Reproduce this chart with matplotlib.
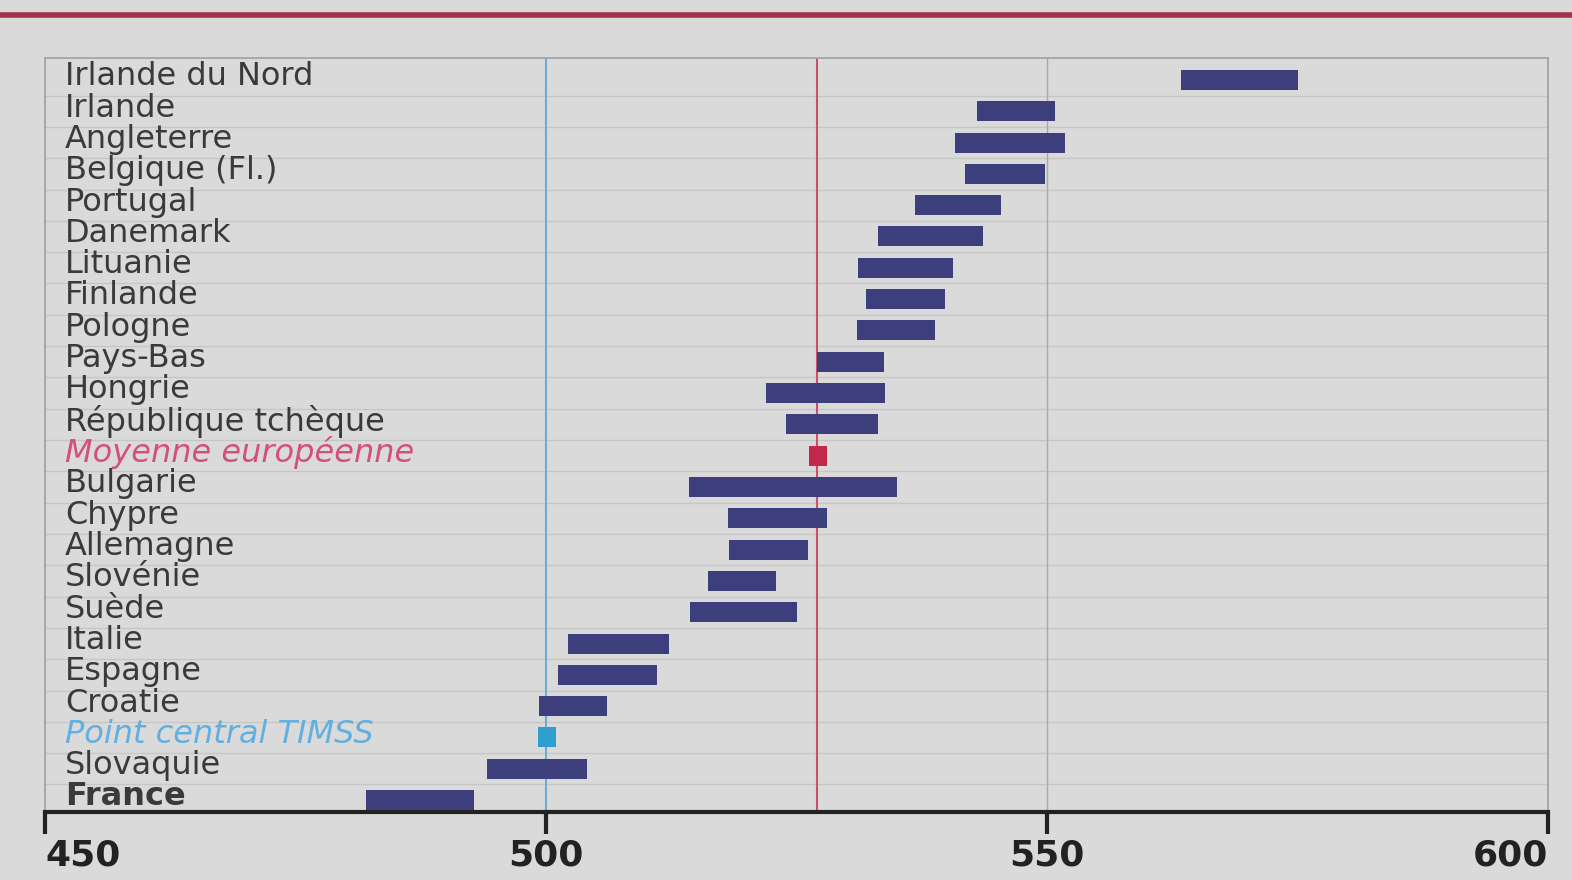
import matplotlib.pyplot as plt
from matplotlib.lines import Line2D

# libelles, du haut vers le bas
pays = ["Irlande du Nord", "Irlande", "Angleterre", "Belgique (Fl.)", "Portugal",
        "Danemark", "Lituanie", "Finlande", "Pologne", "Pays-Bas", "Hongrie",
        "République tchèque", "Moyenne européenne", "Bulgarie", "Chypre",
        "Allemagne", "Slovénie", "Suède", "Italie", "Espagne", "Croatie",
        "Point central TIMSS", "Slovaquie", "France"]

# bornes des intervalles (score)
bas = [563.4, 543.0, 540.8, 541.8, 536.8, 533.1, 531.1, 531.9, 531.0, 527.0,
       522.0, 524.0, 526.2, 514.3, 518.2, 518.3, 516.2, 514.4, 502.2, 501.2,
       499.3, 499.2, 494.1, 482.0]
haut = [575.0, 550.8, 551.8, 549.8, 545.4, 543.6, 540.6, 539.8, 538.8, 533.7,
        533.8, 533.1, 528.0, 535.0, 528.0, 526.1, 523.0, 525.0, 512.3, 511.1,
        506.1, 501.0, 504.1, 492.8]

moyenne_ue = 527
point_central = 500
graduations = [450, 500, 550, 600]

fond = "#dadada"
barre = "#3d3f7c"
rouge = "#c3284c"
bleu = "#2f9fd0"

fig = plt.figure(figsize=(15.72, 8.8), dpi=100, facecolor=fond)
ax = fig.add_axes([45/1572, 1-812/880, (1548-45)/1572, (812-58)/880])
ax.set_facecolor(fond)

n = len(pays)
couleurs = []
for p in pays:
    if p == "Moyenne européenne":
        couleurs.append(rouge)
    elif p == "Point central TIMSS":
        couleurs.append(bleu)
    else:
        couleurs.append(barre)

largeurs = [h - b for b, h in zip(bas, haut)]
ax.barh(range(n), largeurs, left=bas, height=0.64, color=couleurs, zorder=3)

# separateurs entre les lignes
for i in range(n - 1):
    ax.axhline(i + 0.5, color="#c6c6c6", lw=1, zorder=1)

ax.axvline(point_central, color="#6aaed8", lw=1.5, zorder=2)
ax.axvline(moyenne_ue, color="#c8506a", lw=1.5, zorder=2)
ax.axvline(550, color="#a8a8a8", lw=1, zorder=2)

for i, p in enumerate(pays):
    style = "normal"
    poids = "normal"
    coul = "#3a3a3a"
    if p == "Moyenne européenne":
        style, coul = "italic", "#d4507a"
    elif p == "Point central TIMSS":
        style, coul = "italic", "#62b0e0"
    elif p == "France":
        poids = "bold"
    ax.text(452.0, i - 0.1, p, va="center", ha="left", fontsize=23, color=coul,
            style=style, fontweight=poids, zorder=4)

ax.set_xlim(450, 600)
ax.set_ylim(n - 1 + 0.38, -0.7)
ax.set_yticks([])

for s in ["left", "top", "right"]:
    ax.spines[s].set_color("#a0a0a0")
    ax.spines[s].set_linewidth(1.2)
ax.spines["bottom"].set_color("#222222")
ax.spines["bottom"].set_linewidth(3)

ax.set_xticks(graduations)
ax.set_xticklabels([str(g) for g in graduations])
ax.tick_params(axis="x", direction="out", length=16, width=3, color="#222222",
               labelsize=26, labelcolor="#222222", pad=3)
etiq = ax.get_xticklabels()
for t in etiq:
    t.set_fontweight("heavy")
etiq[0].set_horizontalalignment("left")
etiq[-1].set_horizontalalignment("right")

# filet rouge en haut de page
fig.add_artist(Line2D([0, 1], [1 - 15/880, 1 - 15/880], color="#a3324f", lw=4,
                      transform=fig.transFigure))

fig.savefig("out.png", dpi=100, facecolor=fond)
